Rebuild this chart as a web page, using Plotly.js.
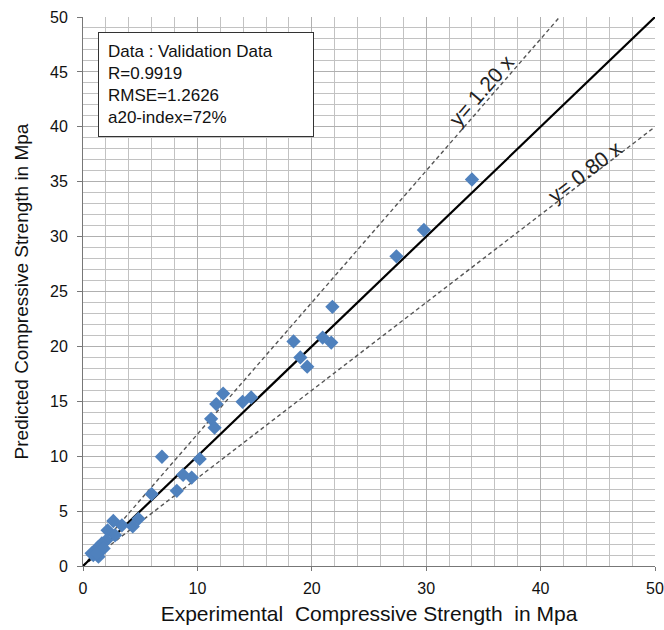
<!DOCTYPE html>
<html>
<head>
<meta charset="utf-8">
<script src="https://cdn.plot.ly/plotly-3.0.1.min.js"></script>
<style>html,body{margin:0;padding:0;background:#fff;}#chart{width:664px;height:630px;}</style>
</head>
<body>
<div id="chart"></div>
<script>
// Experimental (x) vs predicted (y) compressive strength, MPa
const experimental = [34.0, 29.8, 27.4, 21.8, 20.95, 21.7, 18.4, 19.0, 19.6, 14.7, 13.95, 12.25, 11.65, 11.2, 11.5, 10.2, 9.5, 8.75, 8.2, 6.9, 6.0, 4.85, 4.35, 3.4, 2.65, 2.15, 2.8, 2.05, 1.65, 1.35, 1.05, 0.9, 1.35, 1.8, 0.75, 1.2];
const predicted    = [35.2, 30.6, 28.2, 23.6, 20.8, 20.35, 20.45, 19.0, 18.15, 15.35, 14.95, 15.7, 14.75, 13.4, 12.6, 9.75, 8.05, 8.3, 6.85, 9.95, 6.55, 4.3, 3.6, 3.7, 4.1, 3.25, 2.8, 2.35, 2.05, 1.75, 1.3, 1.0, 0.85, 1.6, 1.15, 1.15];
const ratios = [1.0, 1.2, 0.8];
const maxVal = 50;
const statsLines = ["Data : Validation Data", "R=0.9919", "RMSE=1.2626", "a20-index=72%"];

const font = "Liberation Sans, Arial, sans-serif";
function refLine(r, solid) {
  const xEnd = Math.min(maxVal, maxVal / r);
  const xs = [0, xEnd];
  return {
    x: xs, y: xs.map(v => v * r), mode: 'lines', type: 'scatter', hoverinfo: 'skip',
    line: solid ? {color: '#000', width: 2.2} : {color: '#555', width: 1.4, dash: '4px,3px'},
    showlegend: false
  };
}
const traces = [
  refLine(ratios[1], false),
  refLine(ratios[2], false),
  refLine(ratios[0], true),
  {
    x: experimental, y: predicted, mode: 'markers', type: 'scatter', showlegend: false,
    marker: {symbol: 'diamond', size: 11, color: '#4F81BD', line: {width: 0}}
  }
];
const layout = {
  width: 664, height: 630,
  margin: {l: 83, r: 9, t: 17, b: 64},
  paper_bgcolor: '#fff', plot_bgcolor: '#fff',
  font: {family: font, color: '#111'},
  showlegend: false,
  xaxis: {
    range: [0, 50], dtick: 10, tick0: 0,
    showgrid: true, gridcolor: '#b0b0b0', gridwidth: 1,
    minor: {dtick: 2, showgrid: true, gridcolor: '#c2c2c2', gridwidth: 1},
    showline: true, linecolor: '#777', linewidth: 1,
    ticks: 'outside', ticklen: 4, tickcolor: '#777', ticklabelstandoff: 4,
    zeroline: false, tickfont: {size: 16, family: font, color: '#111'},
    title: {text: 'Experimental  Compressive Strength  in Mpa', font: {size: 21, family: font, color: '#111'}, standoff: 10},
    automargin: false
  },
  yaxis: {
    range: [0, 50], dtick: 5, tick0: 0,
    showgrid: true, gridcolor: '#b0b0b0', gridwidth: 1,
    minor: {dtick: 1, showgrid: true, gridcolor: '#c2c2c2', gridwidth: 1},
    showline: true, linecolor: '#777', linewidth: 1,
    ticks: 'outside', ticklen: 5, tickcolor: '#777', ticklabelstandoff: 6,
    zeroline: false, tickfont: {size: 16, family: font, color: '#111'},
    title: {text: 'Predicted Compressive Strength in Mpa', font: {size: 19, family: font, color: '#111'}, standoff: 16},
    automargin: false
  },
  annotations: [
    {
      xref: 'paper', yref: 'paper', x: 0.0257, y: 0.972, xanchor: 'left', yanchor: 'top',
      text: statsLines.join('<br>'), align: 'left', showarrow: false,
      font: {size: 17, family: font, color: '#111'},
      bordercolor: '#333', borderwidth: 1, borderpad: 9, bgcolor: '#fff', width: 196
    },
    {
      x: 34.8, y: 43.35, xref: 'x', yref: 'y', text: 'y= 1.20 x', showarrow: false,
      textangle: -49, font: {size: 21, family: font, color: '#222'}
    },
    {
      x: 43.9, y: 35.9, xref: 'x', yref: 'y', text: 'y= 0.80 x', showarrow: false,
      textangle: -37.5, font: {size: 21, family: font, color: '#222'}
    }
  ]
};
Plotly.newPlot('chart', traces, layout, {displayModeBar: false, staticPlot: true});
</script>
</body>
</html>
